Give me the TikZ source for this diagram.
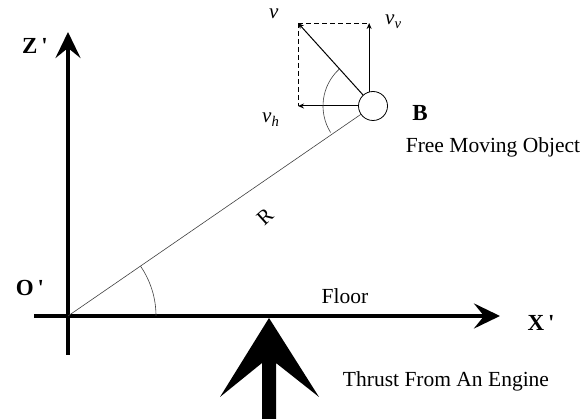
\documentclass[tikz,border=0pt]{standalone}
\usepackage{fontspec}
\setmainfont{Liberation Serif}
\usetikzlibrary{arrows.meta,calc}
\tikzstyle{axis-line} = [line width=4pt, 
    -{Stealth[length=26pt, width=25pt, inset=10pt]}]
\tikzstyle{vec-arrow} = [line width=1pt, -{Stealth[length=6pt, width=5pt]}]
\tikzstyle{dash-line} = [line width=0.9pt, dash pattern=on 5pt off 3pt]
\tikzstyle{thin-line} = [line width=0.6pt, black!75]
\tikzstyle{axis-label} = [font=\fontsize{23}{26}\selectfont\bfseries]
\tikzstyle{plain-label} = [font=\fontsize{21.5}{24}\selectfont, anchor=base]
\tikzstyle{vec-label} = [font=\fontsize{21}{24}\selectfont\itshape, 
    anchor=base west, inner sep=0pt]

\begin{document}
\begin{tikzpicture}[x=1pt,y=1pt]
\useasboundingbox (0,0) rectangle (584,419);
% axes
\coordinate (O) at (68,103);
\coordinate (z-start) at (68,64);
\coordinate (z-end) at (68,387);
\coordinate (x-start) at (34,103);
\coordinate (x-end) at (500,103);
\draw[axis-line] (z-start) -- (z-end);
\draw[axis-line] (x-start) -- (x-end);
\node[axis-label] (z-label) at (35,373) {Z\,\textquotesingle};
\node[axis-label] (o-label) at (30,131) {O\,\textquotesingle};
\node[axis-label] (x-label) at (541,96) {X\,\textquotesingle};
\node[plain-label] (floor-label) at (345,115) {Floor};
% object
\node[circle, draw, line width=0.8pt, minimum size=29pt, inner sep=0pt] (B) at (373,313) {};
\node[axis-label] (b-label) at (420,306) {B};
\node[plain-label] (object-label) at (493,266) {Free Moving Object};
\draw[thin-line] (O) -- (B);
\node[font=\fontsize{21}{24}\selectfont, rotate=42] (r-label) at (265,202) {R};
\draw[thin-line] (O) ++(0:88) arc[start angle=0, end angle=34.5, radius=88];
% velocity
\coordinate (v-tip) at (298,396);
\draw[vec-arrow] (B) -- (v-tip);
\draw[vec-arrow] (B.105) -- (B.105 |- v-tip) coordinate (vv-tip);
\draw[vec-arrow] (B.west) -- (v-tip |- B.west) coordinate (vh-tip);
\draw[dash-line] (v-tip) -- (vv-tip);
\draw[dash-line] (v-tip) -- (vh-tip);
\draw[thin-line] (B) ++(132:50) arc[start angle=132, end angle=212, radius=50];
\node[vec-label] (v-label) at (269,400) {v};
\node[vec-label] (vv-label) at (385,394) {v\textsubscript{v}};
\node[vec-label] (vh-label) at (262,296) {v\textsubscript{h}};
% thrust
\coordinate (thrust-tip) at (269,101);
\fill (thrust-tip) -- ++(50,-79) -- ++(-43,34) -- ++(0,-56) -- ++(-14,0)
    -- ++(0,56) -- ++(-42,-34) -- cycle;
\node[plain-label] (thrust-label) at (446,32) {Thrust From An Engine};
\end{tikzpicture}
\end{document}
